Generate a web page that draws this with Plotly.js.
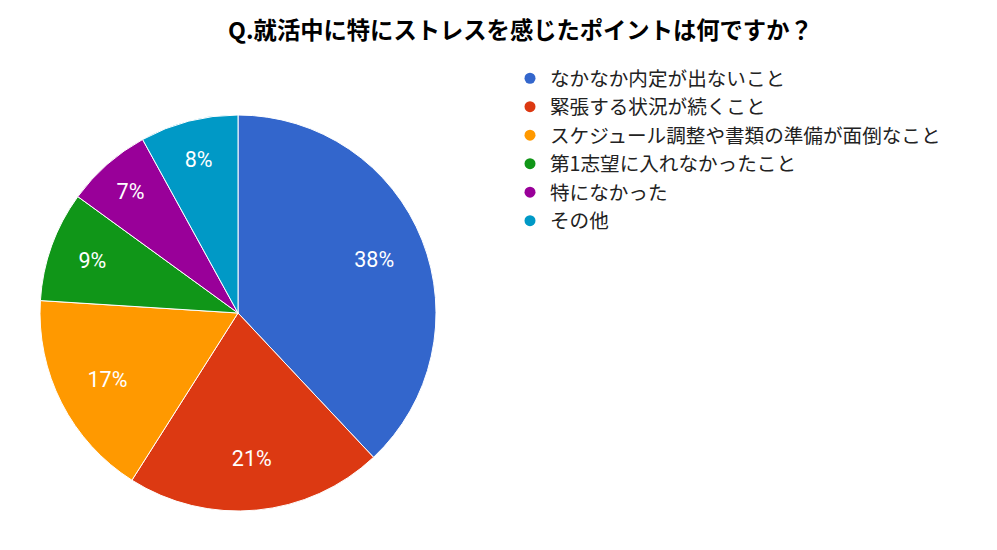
<!DOCTYPE html>
<html><head><meta charset="utf-8">
<script src="https://cdn.plot.ly/plotly-3.0.1.min.js"></script>
<style>html,body{margin:0;padding:0;background:#fff}#chart{width:997px;height:550px}</style>
</head><body><div id="chart"></div>
<script>
const titleText = "Q.就活中に特にストレスを感じたポイントは何ですか？";
const categories = ["なかなか内定が出ないこと","緊張する状況が続くこと","スケジュール調整や書類の準備が面倒なこと","第1志望に入れなかったこと","特になかった","その他"];
const values = [38,21,17,9,7,8];
const colors = ["#3366cc","#dc3912","#ff9900","#109618","#990099","#0099c6"];
const FONT = '"Noto Sans CJK JP", "Noto Sans", sans-serif';
const pieDomain = {x: [40/997, 436/997], y: [1-511/550, 1-115/550]};

const traces = [{
  // coloured slices
  type: "pie",
  labels: categories,
  values: values,
  sort: false,
  direction: "clockwise",
  rotation: 0,
  marker: {colors: colors, line: {color: "#ffffff", width: 1}},
  textinfo: "none",
  hoverinfo: "label+percent",
  showlegend: false,
  domain: pieDomain
}, {
  // percentage labels (transparent ring so labels sit further out, like the original)
  type: "pie",
  labels: categories,
  values: values,
  sort: false,
  direction: "clockwise",
  rotation: 0,
  hole: 0.48,
  marker: {colors: categories.map(() => "rgba(0,0,0,0)"), line: {width: 0}},
  textinfo: "percent",
  texttemplate: "%{percent:.0%}",
  textposition: "inside",
  insidetextorientation: "horizontal",
  textfont: {color: "#ffffff", size: 21.5, family: "Roboto, Arial, sans-serif"},
  hoverinfo: "skip",
  showlegend: false,
  domain: pieDomain
}];
categories.forEach((c, i) => {
  traces.push({
    type: "scatter", mode: "markers", x: [null], y: [null], name: c,
    marker: {symbol: "circle", size: 11, color: colors[i]},
    showlegend: true, hoverinfo: "skip"
  });
});

const layout = {
  width: 997, height: 550,
  margin: {l: 0, r: 0, t: 0, b: 0},
  paper_bgcolor: "#ffffff", plot_bgcolor: "rgba(0,0,0,0)",
  title: {text: "<b>" + titleText + "</b>", x: 0.522, xanchor: "center", y: 1 - 31/550, yanchor: "middle",
    font: {family: FONT, size: 23.3, color: "#000000"}},
  xaxis: {visible: false}, yaxis: {visible: false},
  legend: {x: 510/997, xanchor: "left", y: 1 - 59/550, yanchor: "top",
    font: {family: FONT, size: 19.6, color: "#222222"}, bgcolor: "rgba(0,0,0,0)", tracegroupgap: 0},
  showlegend: true
};
Plotly.newPlot("chart", traces, layout, {displayModeBar: false, staticPlot: true});
</script></body></html>
